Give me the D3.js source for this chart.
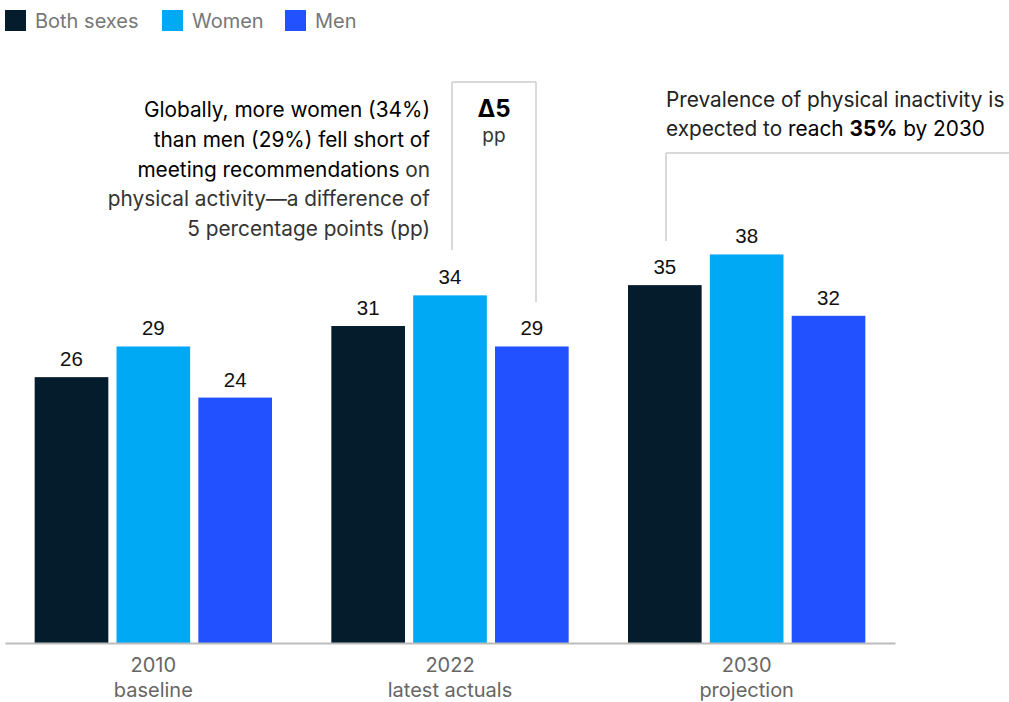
<!DOCTYPE html>
<html><head><meta charset="utf-8">
<script src="https://cdn.jsdelivr.net/npm/d3@7"></script>
<style>body{margin:0;background:#fff}svg{display:block}text{font-family:Inter,"Liberation Sans",Arial,sans-serif}</style>
</head><body>
<svg id="c" width="1009" height="702"></svg>
<script>
const periods = ["2010", "2022", "2030"];
const periodSub = ["baseline", "latest actuals", "projection"];
const seriesNames = ["Both sexes", "Women", "Men"];
const seriesColors = ["#051C2C", "#00A9F4", "#2251FF"];
const bothSexes = [26, 31, 35];
const women = [29, 34, 38];
const men = [24, 29, 32];
const seriesValues = [bothSexes, women, men];

const svg = d3.select("#c");
const baseY = 643;
const x0 = d3.scaleBand().domain(periods).range([5, 895]).paddingInner(0.2).paddingOuter(0.1);
const x1 = d3.scaleBand().domain(seriesNames).range([0, x0.bandwidth()]).paddingInner(0.1);
const y = d3.scaleLinear().domain([0, 40]).range([baseY, baseY - 409]);

// bars
periods.forEach((p, i) => {
  const g = svg.append("g").attr("transform", `translate(${x0(p)},0)`);
  seriesNames.forEach((s, j) => {
    const v = seriesValues[j][i];
    g.append("rect").attr("x", x1(s)).attr("width", x1.bandwidth())
      .attr("y", y(v)).attr("height", baseY - y(v)).attr("fill", seriesColors[j]);
    g.append("text").attr("x", x1(s) + x1.bandwidth() / 2).attr("y", y(v) - 11)
      .attr("text-anchor", "middle").attr("font-size", 20.5).attr("fill", "#111")
      .style("font-family", "'Liberation Sans',Arial,sans-serif").text(v);
  });
});

// axis
const axis = svg.append("g").attr("transform", `translate(0,${baseY})`)
  .call(d3.axisBottom(x0).tickSize(0).tickFormat(""));
axis.select(".domain").attr("stroke", "#bbb").attr("stroke-width", 2);
periods.forEach((p, i) => {
  const cx = x0(p) + x0.bandwidth() / 2;
  const t = svg.append("text").attr("text-anchor", "middle").attr("font-size", 20)
    .attr("fill", "#666");
  t.append("tspan").attr("x", cx).attr("y", 672).text(p);
  t.append("tspan").attr("x", cx).attr("y", 697).text(periodSub[i]);
});

// legend
const legendX = [5, 162, 285];
seriesNames.forEach((s, j) => {
  svg.append("rect").attr("x", legendX[j]).attr("y", 10).attr("width", 21).attr("height", 21).attr("fill", seriesColors[j]);
  svg.append("text").attr("x", legendX[j] + 30).attr("y", 28).attr("font-size", 20).attr("fill", "#777").text(s);
});

// left annotation
const leftLines = [
  [["Globally, more women (34%)", "#000", 400]],
  [["than men (29%) fell short of", "#000", 400]],
  [["meeting recommendations", "#000", 400], [" on", "#333", 400]],
  [["physical activity\u2014a difference of", "#333", 400]],
  [["5 percentage points (pp)", "#333", 400]]
];
leftLines.forEach((ln, i) => {
  const t = svg.append("text").attr("x", 430).attr("y", 117 + i * 29.8).attr("text-anchor", "end").attr("font-size", 20.8);
  ln.forEach(([s, c, w]) => t.append("tspan").attr("fill", c).attr("font-weight", w).text(s));
});

// delta box
const line = (x1_, y1_, x2_, y2_) => svg.append("line").attr("x1", x1_).attr("y1", y1_).attr("x2", x2_).attr("y2", y2_)
  .attr("stroke", "#ccc").attr("stroke-width", 1.5);
line(452, 82, 452, 250);
line(452, 82, 536, 82);
line(536, 82, 536, 302);
svg.append("text").attr("x", 494).attr("y", 117).attr("text-anchor", "middle").attr("font-size", 24).attr("font-weight", 700).attr("fill", "#000").text("\u03945");
svg.append("text").attr("x", 494).attr("y", 142).attr("text-anchor", "middle").attr("font-size", 19).attr("fill", "#333").text("pp");

// right annotation
const r1 = svg.append("text").attr("x", 666).attr("y", 107).attr("font-size", 20.8).attr("fill", "#222").text("Prevalence of physical inactivity is");
const r2 = svg.append("text").attr("x", 666).attr("y", 136).attr("font-size", 20.8);
r2.append("tspan").attr("fill", "#222").text("expected to ");
r2.append("tspan").attr("fill", "#000").text("reach ");
r2.append("tspan").attr("fill", "#000").attr("font-weight", 700).text("35%");
r2.append("tspan").attr("fill", "#000").text(" by 2030");
line(666, 153, 1009, 153);
line(666, 153, 666, 241);
</script>
</body></html>
